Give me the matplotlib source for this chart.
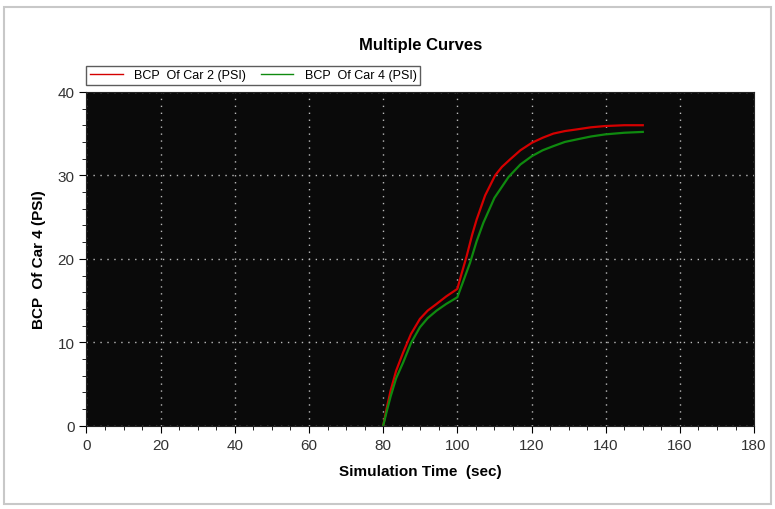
import matplotlib.pyplot as plt
from matplotlib.patches import Rectangle

plt.rcParams['font.family'] = ['Liberation Sans Narrow', 'Liberation Sans', 'DejaVu Sans']

# values
t_car2 = [80, 81, 82, 83.5, 85.4, 87.5, 89.9, 92, 94.4, 97, 100,
          101, 102.5, 104, 105.2, 107.5, 110.2, 112, 114.2, 117, 120.1,
          123, 125.9, 129, 132.2, 136, 139.8, 145, 150]
bcp_car2 = [0, 2.2, 4.2, 6.6, 8.8, 11.0, 12.8, 13.8, 14.6, 15.5, 16.4,
            18.0, 20.3, 22.9, 24.7, 27.6, 30.0, 31.0, 31.9, 33.0, 33.9,
            34.5, 35.0, 35.3, 35.5, 35.75, 35.9, 36.0, 36.0]

t_car4 = [80, 81, 82, 83.5, 85.4, 87.5, 89.9, 92, 94.4, 97, 100,
          101.5, 103.4, 105.2, 107.0, 110, 113.8, 117, 120.1,
          123, 125.9, 129, 132.2, 136, 139.8, 145, 150]
bcp_car4 = [0, 1.8, 3.5, 5.7, 7.6, 9.9, 11.8, 12.9, 13.8, 14.6, 15.4,
            17.2, 19.5, 22.1, 24.3, 27.3, 29.8, 31.3, 32.3,
            33.0, 33.5, 34.0, 34.3, 34.65, 34.9, 35.1, 35.2]

fig = plt.figure(figsize=(7.75, 5.1), dpi=100)
fig.patches.append(Rectangle((0.005, 0.01), 0.99, 0.975, transform=fig.transFigure,
                             fill=False, edgecolor='#c8c8c8', linewidth=1.5))
ax = fig.add_axes([0.1115, 0.163, 0.8615, 0.655])
ax.set_facecolor('#0a0a0a')

ax.plot(t_car2, bcp_car2, color='#d40000', linewidth=1.6, label='BCP  Of Car 2 (PSI)')
ax.plot(t_car4, bcp_car4, color='#0f8a0f', linewidth=1.6, label='BCP  Of Car 4 (PSI)')

ax.set_xlim(0, 180)
ax.set_ylim(0, 40)
ax.set_xticks(range(0, 181, 20))
ax.set_xticks(range(0, 181, 5), minor=True)
ax.set_yticks(range(0, 41, 10))
ax.set_yticks(range(0, 41, 2), minor=True)
ax.tick_params(axis='both', which='major', length=5, labelsize=11, labelcolor='#333333')
ax.tick_params(axis='both', which='minor', length=3)
ax.grid(True, which='major', color='#bbbbbb', linestyle=(0, (1, 4)), linewidth=1.0)
for s in ax.spines.values():
    s.set_color('#222222')

ax.set_title('Multiple Curves', fontsize=12, fontweight='bold', pad=31)
ax.set_xlabel('Simulation Time  (sec)', fontsize=11, fontweight='bold', labelpad=9)
ax.set_ylabel('BCP  Of Car 4 (PSI)', fontsize=11, fontweight='bold', labelpad=8,
              family=['Liberation Sans', 'DejaVu Sans'])

leg = ax.legend(loc='lower left', bbox_to_anchor=(0.0, 1.02), ncol=2, fontsize=9,
                frameon=True, fancybox=False, edgecolor='#333333',
                handlelength=2.6, borderpad=0.3, columnspacing=1.2, handletextpad=0.9,
                borderaxespad=0)
leg.get_frame().set_linewidth(1.0)
for line in leg.get_lines():
    line.set_linewidth(1.0)

fig.savefig('out.png', dpi=100)
